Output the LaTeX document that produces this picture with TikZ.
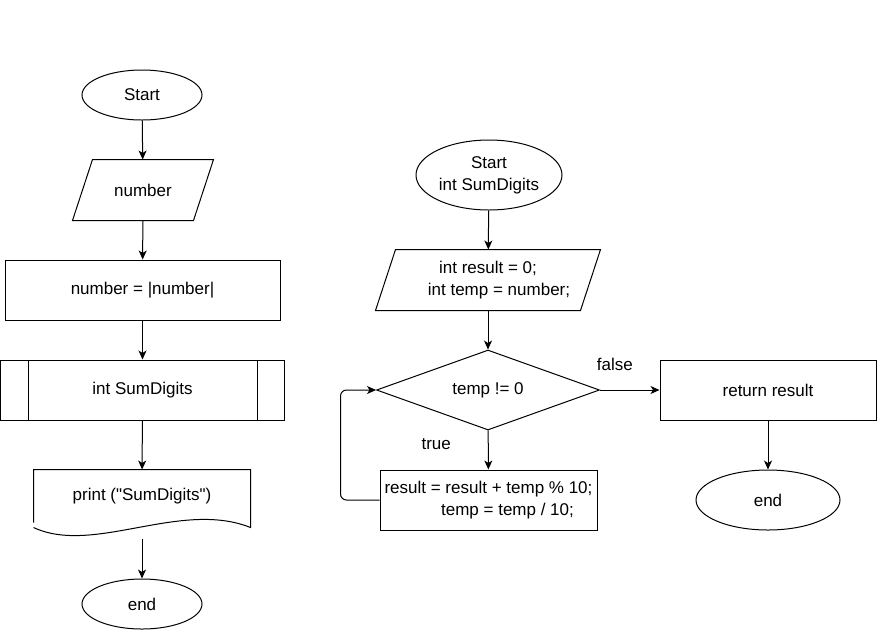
\documentclass[tikz,border=0pt]{standalone}
\usepackage{fontspec}
\setmainfont{Liberation Sans}
\usetikzlibrary{positioning,shapes.geometric,arrows.meta,calc}

\begin{document}
\begin{tikzpicture}[x=1pt, y=-1pt, line width=1pt,
        every node/.style={font=\fontsize{17}{22}\selectfont, inner sep=0pt},
        box/.style={draw, rectangle},
        term/.style={draw, ellipse},
        slot/.style={rectangle},
        test/.style={draw, diamond, aspect=3},
        flow/.style={-{Stealth[length=9pt, width=8pt, inset=2.5pt]}}]
    \useasboundingbox (0,0) rectangle (877,630);

    % main program
    \node [term, minimum width=120, minimum height=50] (start1) at (142,95) {Start};
    \node [slot, minimum width=140, minimum height=60] (num) at (143,190) {number};
    \draw ($(num.north west)+(20,0)$) -- (num.north east) -- ($(num.south east)+(-20,0)$) -- (num.south west) -- cycle;
    \node [box, minimum width=275, minimum height=60] (absval) at (142.5,290) {number = |number|};
    \node [box, minimum width=284, minimum height=60] (sub) at (142.5,390) {int SumDigits};
    \draw ($(sub.north west)+(28,0)$) -- ($(sub.south west)+(28,0)$);
    \draw ($(sub.north east)+(-28,0)$) -- ($(sub.south east)+(-28,0)$);
    \node [slot, minimum width=216, minimum height=52] (doc) at (142,496) {print (\textquotedbl SumDigits\textquotedbl)};
    \draw (doc.south west) -- (doc.north west) -- (doc.north east) -- ($(doc.south east)+(0,5)$)
        .. controls +(-70,-28) and +(60,28) .. ($(doc.south west)+(0,5)$);
    \coordinate (docfoot) at ($(doc.south)+(0,16)$);
    \node [term, minimum width=120, minimum height=50] (end1) at (142,604) {end};

    \draw [flow] (start1) -- (num);
    \draw [flow] (num) -- (absval);
    \draw [flow] (absval) -- (sub);
    \draw [flow] (sub) -- (doc);
    \draw [flow] (docfoot) -- (end1);

    % SumDigits
    \node [term, minimum width=146, minimum height=70, align=center] (start2) at (489,175) {Start\\int SumDigits};
    \node [slot, minimum width=224, minimum height=60, align=center] (init) at (488,280) {int result = 0;\\\hspace*{22pt}int temp = number;};
    \draw ($(init.north west)+(20,0)$) -- (init.north east) -- ($(init.south east)+(-20,0)$) -- (init.south west) -- cycle;
    \node [test, minimum width=223, minimum height=80] (cond) at (488,390) {temp != 0};
    \node [box, minimum width=217, minimum height=60, align=center] (step1) at (488.5,500) {result = result + temp \% 10;\\\hspace*{38pt}temp = temp / 10;};
    \node [box, minimum width=216, minimum height=60] (ret) at (768,390) {return result};
    \node [term, minimum width=144, minimum height=60] (end2) at (768,500) {end};

    \draw [flow] (start2) -- (init);
    \draw [flow] (init) -- (cond);
    \draw [flow] (cond) -- node [pos=0.35, xshift=-52pt] {true} (step1);
    \draw [flow] (cond) -- node [pos=0.25, yshift=26pt] {false} (ret);
    \draw [flow, rounded corners=6] (step1.west) -- ++(-39,0) |- (cond.west);
    \draw [flow] (ret) -- (end2);
\end{tikzpicture}
\end{document}
